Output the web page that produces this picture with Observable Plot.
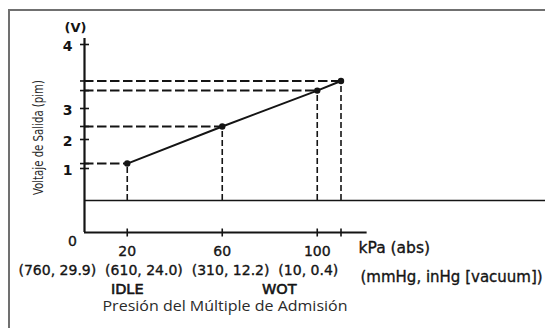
<!DOCTYPE html>
<html>
<head>
<meta charset="utf-8">
<script src="https://cdn.jsdelivr.net/npm/d3@7"></script>
<script src="https://cdn.jsdelivr.net/npm/@observablehq/plot@0.6"></script>
<style>
  html, body { margin: 0; padding: 0; background: #fff; }
  #chart { position: relative; width: 545px; height: 328px; overflow: hidden; }
  #chart .edge {
    position: absolute; left: 8px; top: 9px; right: 0; bottom: 0;
    border-top: 2px solid #707070; border-left: 2px solid #707070;
    pointer-events: none;
  }
  #chart svg text { white-space: pre; }
</style>
</head>
<body>
<div id="chart"><div class="edge"></div></div>
<script>
// MAP sensor response: output voltage against manifold absolute pressure
const pressureKpa = [20, 60, 100, 110];
const outputVolts = [1.17, 2.42, 3.28, 3.43];

const kpaTickLabels = [20, 60, 100];
const kpaTickMarks = [20, 60, 100, 110];
const voltTicks = [1, 2, 3, 4];
const vacuumLabels = ["(760, 29.9)", "(610, 24.0)", "(310, 12.2)", "(10, 0.4)"];
const stateLabels = ["IDLE", "WOT"];
const stateKpa = [20, 100];
const referenceVolts = 0.5;

const kpaExtent = [2, 121];
const voltTop = 4.1;

const points = pressureKpa.map((p, i) => ({p, v: outputVolts[i]}));

const ink = "#141414";
const hTick = {draw(ctx) { ctx.moveTo(-4.5, 0); ctx.lineTo(4.5, 0); }};
const vTick = {draw(ctx) { ctx.moveTo(0, -4); ctx.lineTo(0, 4); }};

// every label is centred on its anchor line unless it says otherwise
const label = (o) => ({lineAnchor: "middle", textAnchor: "middle", fill: ink, stroke: ink, strokeWidth: 0.35, fontSize: 14, ...o});

const plot = Plot.plot({
  width: 545,
  height: 328,
  marginTop: 0,
  marginRight: 0,
  marginBottom: 96,
  marginLeft: 84,
  style: {fontFamily: "DejaVu Sans", fontSize: "14px", color: ink, background: "transparent"},
  x: {type: "linear", domain: kpaExtent, range: [84, 84 + (kpaExtent[1] - kpaExtent[0]) * 2.375], axis: null},
  y: {type: "linear", domain: [0, 1, 2, 3, 4, voltTop], range: [232, 168, 139, 108, 44, 38], axis: null},
  marks: [
    // reference level that the guide lines drop to
    Plot.ruleY([referenceVolts], {stroke: ink, strokeWidth: 1.7}),
    // axes
    Plot.ruleY([0], {x1: kpaExtent[0], x2: kpaExtent[1], stroke: ink, strokeWidth: 2}),
    Plot.ruleX([kpaExtent[0]], {y1: 0, y2: voltTop, stroke: ink, strokeWidth: 2.2}),
    // guide lines from each point
    Plot.ruleY(points, {y: "v", x1: kpaExtent[0], x2: "p", stroke: ink, strokeWidth: 2, strokeDasharray: "9.5,3.5"}),
    Plot.ruleX(points, {x: "p", y1: referenceVolts, y2: "v", stroke: ink, strokeWidth: 1.6, strokeDasharray: "6,3"}),
    // response line
    Plot.line(points, {x: "p", y: "v", stroke: ink, strokeWidth: 2}),
    Plot.dot(points, {x: "p", y: "v", r: 3.2, fill: ink, stroke: "none"}),
    // tick marks
    Plot.dot([...voltTicks, ...outputVolts], {y: d => d, frameAnchor: "left", symbol: hTick, fill: "none", stroke: ink, strokeWidth: 1.6}),
    Plot.dot(kpaTickMarks, {x: d => d, frameAnchor: "bottom", symbol: vTick, fill: "none", stroke: ink, strokeWidth: 1.6}),
    // y tick labels
    Plot.text(voltTicks, label({y: d => d, frameAnchor: "left", dx: -17, dy: 2, text: d => String(d), fontWeight: "bold", strokeWidth: 0})),
    Plot.text(["(V)"], label({frameAnchor: "top-left", dx: -9, dy: 27, fontWeight: "bold", fontSize: 13, strokeWidth: 0})),
    Plot.text(["0"], label({frameAnchor: "bottom-left", dx: -12, dy: 9})),
    // x tick labels and units
    Plot.text(kpaTickLabels, label({x: d => d, frameAnchor: "bottom", dy: 19, text: d => String(d)})),
    Plot.text(["kPa (abs)"], label({frameAnchor: "bottom-left", dx: 274, dy: 16, textAnchor: "start", fontSize: 15.5})),
    Plot.text([vacuumLabels.join("  ")], label({frameAnchor: "bottom-left", dx: -66, dy: 38, textAnchor: "start"})),
    Plot.text(["(mmHg, inHg [vacuum])"], label({frameAnchor: "bottom-left", dx: 276, dy: 45, textAnchor: "start", fontSize: 15})),
    Plot.text([stateLabels[0]], label({x: stateKpa[0], frameAnchor: "bottom", dy: 57, fontSize: 14.5, strokeWidth: 0.6})),
    Plot.text([stateLabels[1]], label({x: stateKpa[1], frameAnchor: "bottom", dx: -38, dy: 57, fontSize: 14.5, strokeWidth: 0.6})),
    // titles
    Plot.text(["Presión del Múltiple de Admisión"], label({frameAnchor: "bottom-left", dx: 18, dy: 74, textAnchor: "start", fontFamily: "Open Sans", fontSize: 14, fill: "#2a2a2a", stroke: "none"})),
    Plot.text(["Voltaje de Salida (pim)"], label({frameAnchor: "left", dx: -46, dy: 21, rotate: -90, fontFamily: "Liberation Sans Narrow, DejaVu Sans Condensed, sans-serif", fontSize: 14, fill: "#2a2a2a", stroke: "none"}))
  ]
});

// stretch the two titles to their drawn widths
const fit = {"Presión del Múltiple de Admisión": 245, "Voltaje de Salida (pim)": 115};
d3.select(plot).selectAll("text").each(function () {
  const w = fit[this.textContent];
  if (w) d3.select(this).attr("textLength", w).attr("lengthAdjust", "spacingAndGlyphs");
});

document.getElementById("chart").prepend(plot);
</script>
</body>
</html>
